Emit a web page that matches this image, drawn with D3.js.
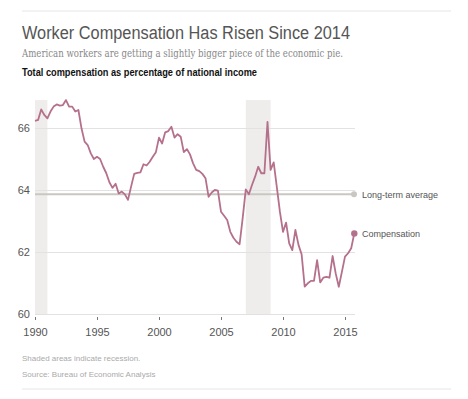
<!DOCTYPE html>
<html>
<head>
<meta charset="utf-8">
<script src="https://cdn.jsdelivr.net/npm/d3@7"></script>
<style>
  body { margin: 0; background: #fff; }
  svg { display: block; }
</style>
</head>
<body>
<script>
(function () {

    // small stand-in for d3-selection-multi
    d3.selection.prototype.attrs = function (map) {
        for (var k in map) { this.attr(k, map[k]); }
        return this;
    };

    var w = 468;
    var h = 399;

    // quarterly values, 1990 Q1 through 2015 Q4
    var startYear = 1990;
    var compensation = [
        66.23, 66.26, 66.60, 66.42, 66.31, 66.53, 66.69, 66.76, 66.72, 66.74,
        66.90, 66.69, 66.69, 66.53, 66.58, 65.99, 65.56, 65.45, 65.18, 65.00,
        65.07, 65.00, 64.75, 64.54, 64.25, 64.07, 64.20, 63.89, 63.95, 63.86,
        63.68, 64.11, 64.52, 64.55, 64.57, 64.83, 64.79, 64.91, 65.07, 65.22,
        65.69, 65.50, 65.86, 65.90, 66.04, 65.69, 65.80, 65.72, 65.22, 65.32,
        65.15, 64.86, 64.65, 64.61, 64.52, 64.38, 63.78, 63.92, 64.00, 63.98,
        63.30, 63.17, 63.03, 62.65, 62.46, 62.33, 62.25, 63.10, 64.02, 63.86,
        64.16, 64.43, 64.75, 64.54, 64.54, 66.20, 64.65, 64.89, 64.10, 63.30,
        62.65, 62.95, 62.28, 62.06, 62.71, 62.23, 61.93, 60.88, 60.99, 61.07,
        61.07, 61.74, 61.02, 61.17, 61.20, 61.17, 61.87, 61.31, 60.88, 61.36,
        61.85, 61.96, 62.12, 62.60
    ];
    var longTermAverage = 63.86;
    var recessions = [[1990, 1991], [2007, 2009]];
    var yTicks = [60, 62, 64, 66];
    var xTicks = [1990, 1995, 2000, 2005, 2010, 2015];

    var lineColor = "#b5708c";
    var sans = "'Liberation Sans', Arial, sans-serif";

    var data = compensation.map(function (v, i) {
        return { year: startYear + i / 4, value: v };
    });

    var x = d3.scaleLinear().domain([1990, 2015]).range([35, 345]);
    var y = d3.scaleLinear().domain([60, 66]).range([314, 128]);
    var yTop = 66.9;

    var svg = d3.select("body").append("svg")
        .attr("width", w)
        .attr("height", h);

    // top and bottom rules
    svg.append("line").attrs({ x1: 22, x2: 451, y1: 11, y2: 11, stroke: "#e6e6e6", "stroke-width": 1 });
    svg.append("line").attrs({ x1: 22, x2: 451, y1: 389, y2: 389, stroke: "#e6e6e6", "stroke-width": 1 });

    // headings
    svg.append("text")
        .text("Worker Compensation Has Risen Since 2014")
        .attrs({
            x: 22, y: 39,
            "font-family": sans,
            "font-size": 18,
            "font-weight": 300,
            fill: "#555",
            textLength: 328,
            lengthAdjust: "spacingAndGlyphs"
        });

    svg.append("text")
        .text("American workers are getting a slightly bigger piece of the economic pie.")
        .attrs({
            x: 22, y: 57,
            "font-family": "'DejaVu Serif', Georgia, serif",
            "font-size": 11.5,
            fill: "#888",
            textLength: 321,
            lengthAdjust: "spacingAndGlyphs"
        });

    svg.append("text")
        .text("Total compensation as percentage of national income")
        .attrs({
            x: 22, y: 76,
            "font-family": sans,
            "font-size": 10.5,
            "font-weight": "bold",
            fill: "#111",
            textLength: 235,
            lengthAdjust: "spacingAndGlyphs"
        });

    // recession shading
    svg.selectAll("rect.recession")
        .data(recessions)
        .enter()
        .append("rect")
        .attrs({
            "class": "recession",
            x: function (d) { return x(d[0]); },
            y: y(yTop),
            width: function (d) { return x(d[1]) - x(d[0]); },
            height: y(60) - y(yTop),
            fill: "#efedeb"
        });

    // grid lines
    svg.selectAll("line.grid")
        .data(yTicks)
        .enter()
        .append("line")
        .attrs({
            "class": "grid",
            x1: x(1990),
            x2: 355,
            y1: function (d) { return y(d) + 0.5; },
            y2: function (d) { return y(d) + 0.5; },
            stroke: "#e2e2e2",
            "stroke-width": 1
        });

    // y labels
    svg.selectAll("text.ylab")
        .data(yTicks)
        .enter()
        .append("text")
        .text(function (d) { return d; })
        .attrs({
            "class": "ylab",
            x: 30,
            y: function (d) { return y(d) + 4; },
            "text-anchor": "end",
            "font-family": sans,
            "font-size": 11,
            fill: "#555"
        });

    // x axis ticks and labels
    var xAxis = d3.axisBottom(x)
        .tickValues(xTicks)
        .tickFormat(d3.format("d"))
        .tickSize(3)
        .tickPadding(8);

    var gx = svg.append("g")
        .attr("transform", "translate(0," + 317 + ")")
        .call(xAxis);
    gx.select(".domain").remove();
    gx.selectAll(".tick line").attrs({ stroke: "#777", "stroke-width": 1 });
    gx.selectAll(".tick text").attrs({
        "font-family": sans,
        "font-size": 11,
        fill: "#555"
    });

    // long-term average
    svg.append("line").attrs({
        x1: x(1990), x2: 354,
        y1: y(longTermAverage), y2: y(longTermAverage),
        stroke: "#c9c7c2",
        "stroke-width": 2
    });
    svg.append("circle").attrs({
        cx: 354, cy: y(longTermAverage), r: 3, fill: "#c9c7c2"
    });
    svg.append("text")
        .text("Long-term average")
        .attrs({
            x: 362, y: y(longTermAverage) + 4,
            "font-family": sans,
            "font-size": 9,
            fill: "#555"
        });

    // compensation line
    var line = d3.line()
        .x(function (d) { return x(d.year); })
        .y(function (d) { return y(d.value); });

    svg.append("path")
        .datum(data)
        .attrs({
            d: line,
            fill: "none",
            stroke: lineColor,
            "stroke-width": 1.8,
            "stroke-linejoin": "round"
        });

    var last = data[data.length - 1];
    svg.append("circle").attrs({
        cx: x(last.year), cy: y(last.value), r: 3.2, fill: lineColor
    });
    svg.append("text")
        .text("Compensation")
        .attrs({
            x: 362, y: y(last.value) + 4,
            "font-family": sans,
            "font-size": 9,
            fill: "#555"
        });

    // notes
    svg.append("text")
        .text("Shaded areas indicate recession.")
        .attrs({ x: 22, y: 361, "font-family": sans, "font-size": 8, fill: "#aaa" });
    svg.append("text")
        .text("Source: Bureau of Economic Analysis")
        .attrs({ x: 22, y: 377, "font-family": sans, "font-size": 8, fill: "#aaa" });
})();
</script>
</body>
</html>
